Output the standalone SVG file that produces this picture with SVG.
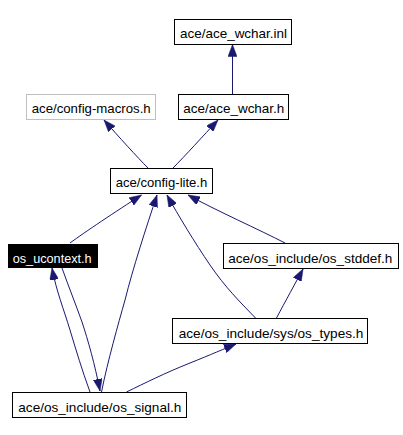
<svg xmlns="http://www.w3.org/2000/svg" width="403" height="435" viewBox="0 0 403 435">
<style>
.box{fill:#fff;stroke:#000;stroke-width:1}
.gray{fill:#fff;stroke:#bfbfbf;stroke-width:1}
.dark{fill:#000;stroke:#000;stroke-width:1}
text{font-family:"Liberation Sans",Arial,sans-serif;font-size:13px;fill:#000}
text.w{fill:#fff}
.e{fill:none;stroke:#191970;stroke-width:1;marker-end:url(#ah)}
</style>
<defs>
<marker id="ah" viewBox="0 0 12 9" refX="12" refY="4.5" markerWidth="12" markerHeight="9" markerUnits="userSpaceOnUse" orient="auto">
<path d="M0,0 L12,4.5 L0,9 z" fill="#191970" stroke="#191970" stroke-width="0.5"/>
</marker>
</defs>
<rect width="403" height="435" fill="#fff"/>
<g id="edges">
<path class="e" d="M232.5,94 L232.5,44.5"/>
<path class="e" d="M148,168 C138,158 118,136 104,120"/>
<path class="e" d="M173,168 C185,156 203,136 218,120"/>
<path class="e" d="M70,243 C85,232 115,212 141.5,195"/>
<path class="e" d="M101.5,392 C108,360 118,325 125,300 C133,268 146,228 157,195"/>
<path class="e" d="M255.5,318 C240,302 225,287 210,265 C195,243 178,215 167,195"/>
<path class="e" d="M285,243 C260,230 215,210 188,195"/>
<path class="e" d="M276.5,318 C285,302 296,282 303,269"/>
<path class="e" d="M126.5,392 C145,383 165,373 190,363 C210,355 226,348 236,344"/>
<path class="e" d="M90,392 C82,370 76,350 70,330 C64,310 56,290 52,268"/>
<path class="e" d="M62,268 C68,285 76,305 82,322 C88,340 95,365 100,391"/>
</g>
<g id="n_wchar_inl"><rect class="box" x="174.5" y="19.5" width="117" height="25"/><text x="180" y="38" textLength="107" lengthAdjust="spacingAndGlyphs">ace/ace_wchar.inl</text></g>
<g id="n_config_macros"><rect class="gray" x="26.5" y="94.5" width="129" height="25"/><text x="31.7" y="113" textLength="119" lengthAdjust="spacingAndGlyphs">ace/config-macros.h</text></g>
<g id="n_wchar_h"><rect class="box" x="178.5" y="94.5" width="110" height="25"/><text x="183.3" y="113" textLength="101" lengthAdjust="spacingAndGlyphs">ace/ace_wchar.h</text></g>
<g id="n_config_lite"><rect class="box" x="110.5" y="168.5" width="102" height="25"/><text x="115.7" y="187" textLength="91.6" lengthAdjust="spacingAndGlyphs">ace/config-lite.h</text></g>
<g id="n_os_ucontext"><rect class="dark" x="8.5" y="244.5" width="89" height="23"/><text class="w" x="12.7" y="262.5" textLength="79" lengthAdjust="spacingAndGlyphs">os_ucontext.h</text></g>
<g id="n_os_stddef"><rect class="box" x="223.5" y="243.5" width="175" height="25"/><text x="228.3" y="262.5" textLength="164" lengthAdjust="spacingAndGlyphs">ace/os_include/os_stddef.h</text></g>
<g id="n_os_types"><rect class="box" x="172.5" y="318.5" width="195" height="25"/><text x="178.7" y="337.5" textLength="184.7" lengthAdjust="spacingAndGlyphs">ace/os_include/sys/os_types.h</text></g>
<g id="n_os_signal"><rect class="box" x="12.5" y="392.5" width="174" height="25"/><text x="18.3" y="411.5" textLength="163" lengthAdjust="spacingAndGlyphs">ace/os_include/os_signal.h</text></g>
</svg>
